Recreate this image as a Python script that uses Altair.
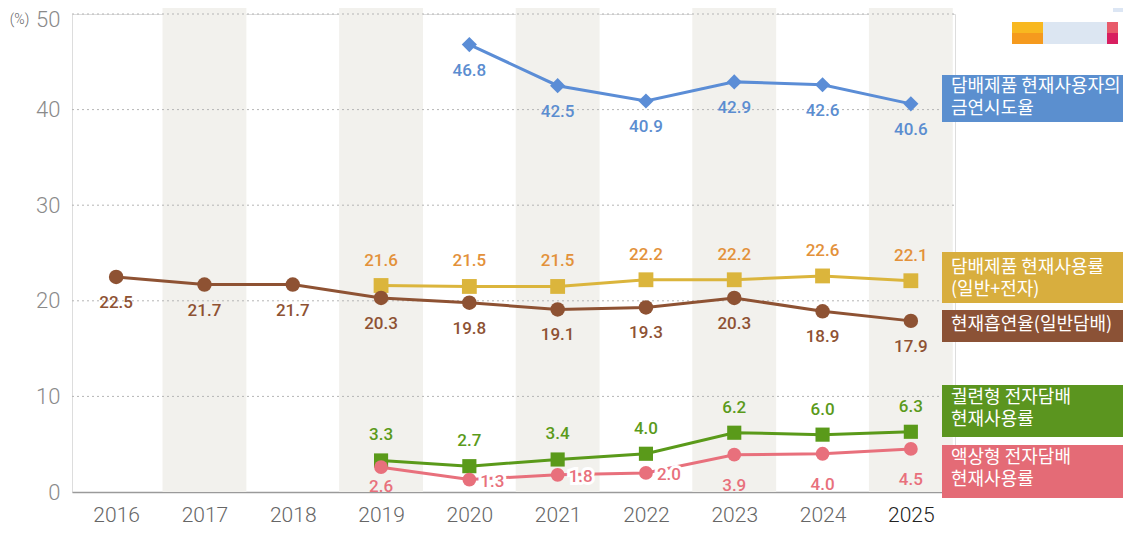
import altair as alt
import pandas as pd

# ---------------- data ----------------
years = [2016, 2017, 2018, 2019, 2020, 2021, 2022, 2023, 2024, 2025]
shaded_years = [2017, 2019, 2021, 2023, 2025]

quit_years = [2020, 2021, 2022, 2023, 2024, 2025]
quit_attempt = [46.8, 42.5, 40.9, 42.9, 42.6, 40.6]

use_years = [2019, 2020, 2021, 2022, 2023, 2024, 2025]
tobacco_use = [21.6, 21.5, 21.5, 22.2, 22.2, 22.6, 22.1]
heated_use = [3.3, 2.7, 3.4, 4.0, 6.2, 6.0, 6.3]
liquid_use = [2.6, 1.3, 1.8, 2.0, 3.9, 4.0, 4.5]

smoking = [22.5, 21.7, 21.7, 20.3, 19.8, 19.1, 19.3, 20.3, 18.9, 17.9]

y_ticks = [10, 20, 30, 40, 50]

series_names = ["quit", "tobacco", "smoking", "heated", "liquid"]
line_colors = ["#5b8dd6", "#dbb53c", "#8e5233", "#5a9a1a", "#e8707c"]
label_colors = ["#5b8dd0", "#e3913a", "#8e5233", "#5a9a1a", "#e8707c"]
shapes = ["diamond", "square", "circle", "square", "circle"]
sizes = [230, 190, 200, 190, 190]

# label placement for each point
quit_place = ["below"] * 6
tobacco_place = ["above"] * 7
smoking_place = ["below"] * 10
heated_place = ["above"] * 7
liquid_place = ["below_near", "right", "right", "right", "below_far", "below_far", "below_far"]

rows = []
for name, xs, vs, pl in [
    ("quit", quit_years, quit_attempt, quit_place),
    ("tobacco", use_years, tobacco_use, tobacco_place),
    ("smoking", years, smoking, smoking_place),
    ("heated", use_years, heated_use, heated_place),
    ("liquid", use_years, liquid_use, liquid_place),
]:
    for x, v, p in zip(xs, vs, pl):
        rows.append({"series": name, "year": x, "value": v, "label": f"{v:.1f}", "place": p})
df = pd.DataFrame(rows)

# legend boxes (annotation)
box_colors = ["#5b8fcf", "#d8ae3e", "#8b5236", "#5b951f", "#e46b76"]
box_lines = [
    ["담배제품 현재사용자의", "금연시도율"],
    ["담배제품 현재사용률", "(일반+전자)"],
    ["현재흡연율(일반담배)"],
    ["궐련형 전자담배", "현재사용률"],
    ["액상형 전자담배", "현재사용률"],
]
# layout (pixels relative to the plot area)
box_top = [61, 238, 296, 371, 431]
box_bottom = [108, 289, 328, 423, 484]
line_y = [[73, 95], [254, 276], [311], [384, 406], [444, 466]]

W, H = 883, 478
BOX_X0, BOX_X1, TEXT_X = 870, 1051, 879

boxes = pd.DataFrame({"x": [BOX_X0] * 5, "x2": [BOX_X1] * 5, "y": box_top, "y2": box_bottom, "c": box_colors})
box_text = pd.DataFrame(
    [{"x": TEXT_X, "y": yy, "t": t} for lines, ys in zip(box_lines, line_y) for t, yy in zip(lines, ys)]
)

# decoration (cropped logo at top right)
deco = pd.DataFrame({
    "x": [940, 940, 971, 1035, 1035, 1041],
    "x2": [971, 971, 1035, 1046, 1046, 1055],
    "y": [8, 19, 8, 8, 19, -14],
    "y2": [19, 30, 30, 19, 30, -2],
    "c": ["#f8b820", "#f59a1e", "#dce6f2", "#e85a6a", "#d81f60", "#dce6f4"],
})

# ---------------- chart ----------------
xscale = alt.Scale(domain=[2015.5, 2025.5], zero=False, nice=False)
yscale = alt.Scale(domain=[0, 50], nice=False)
FONT = "Roboto"

x_axis = alt.Axis(
    values=years, format="d", title=None, grid=False, ticks=False,
    labelFont=FONT, labelFontSize=21, labelFontWeight=300, labelPadding=12,
    labelColor=alt.condition("datum.value == 2025", alt.value("#222222"), alt.value("#666666")),
    domainColor="#9a9a9a", domainWidth=1.5,
)
y_axis = alt.Axis(
    values=[0] + y_ticks, title="(%)", titleAngle=0, titleX=-53, titleY=5,
    titleFont=FONT, titleFontSize=14, titleFontWeight=300, titleColor="#666666",
    titleAlign="center", titleBaseline="middle",
    grid=False, ticks=False, domain=False,
    labelFont=FONT, labelFontSize=22, labelFontWeight=300, labelColor="#8a8a8a", labelPadding=12,
    labelOffset=alt.condition("datum.value == 50", alt.value(5), alt.value(0)),
)

bands = alt.Chart(pd.DataFrame({"year": shaded_years})).transform_calculate(
    x0="datum.year - 0.475", x1="datum.year + 0.475"
).mark_rect(color="#f2f1ed").encode(
    x=alt.X("x0:Q", scale=xscale, axis=x_axis),
    x2="x1:Q",
    y=alt.value(-6),
    y2=alt.value(H),
)

grid = alt.Chart(pd.DataFrame({"v": y_ticks})).mark_rule(
    color="#b5b5b5", strokeDash=[2, 3], strokeWidth=1
).encode(
    y=alt.Y("v:Q", scale=yscale, axis=y_axis),
    x=alt.value(0), x2=alt.value(W),
)

color_scale = alt.Scale(domain=series_names, range=line_colors)
lines = alt.Chart(df).mark_line(strokeWidth=3).encode(
    x=alt.X("year:Q", scale=xscale),
    y=alt.Y("value:Q", scale=yscale),
    color=alt.Color("series:N", scale=color_scale, legend=None),
    detail="series:N",
)
points = alt.Chart(df).mark_point(filled=True, opacity=1).encode(
    x=alt.X("year:Q", scale=xscale),
    y=alt.Y("value:Q", scale=yscale),
    color=alt.Color("series:N", scale=color_scale, legend=None),
    shape=alt.Shape("series:N", scale=alt.Scale(domain=series_names, range=shapes), legend=None),
    size=alt.Size("series:N", scale=alt.Scale(domain=series_names, range=sizes), legend=None),
)

label_scale = alt.Scale(domain=series_names, range=label_colors)


def label_layer(place, dx=0, dy=0, align="center", halo=False):
    base = alt.Chart(df).transform_filter(alt.datum.place == place)
    enc = dict(
        x=alt.X("year:Q", scale=xscale),
        y=alt.Y("value:Q", scale=yscale),
        text="label:N",
    )
    kw = dict(font=FONT, fontSize=17, fontWeight=500, dx=dx, dy=dy, align=align, baseline="middle")
    main = base.mark_text(**kw).encode(
        color=alt.Color("series:N", scale=label_scale, legend=None), **enc
    )
    if halo:
        h = base.mark_text(stroke="white", strokeWidth=6, fill="white", **kw).encode(**enc)
        return [h, main]
    return [main]


labels = (
    label_layer("above", dy=-25)
    + label_layer("below", dy=26)
    + label_layer("below_near", dy=20)
    + label_layer("below_far", dy=31)
    + label_layer("right", dx=11, dy=2, align="left", halo=True)
)

box_rects = alt.Chart(boxes).mark_rect().encode(
    x=alt.X("x:Q", scale=None), x2="x2:Q",
    y=alt.Y("y:Q", scale=None), y2="y2:Q",
    color=alt.Color("c:N", scale=None),
)
box_texts = alt.Chart(box_text).mark_text(
    font="Noto Sans CJK KR", fontSize=18, fontWeight=400, color="white", align="left", baseline="middle"
).encode(
    x=alt.X("x:Q", scale=None), y=alt.Y("y:Q", scale=None), text="t:N",
)
deco_rects = alt.Chart(deco).mark_rect().encode(
    x=alt.X("x:Q", scale=None), x2="x2:Q",
    y=alt.Y("y:Q", scale=None), y2="y2:Q",
    color=alt.Color("c:N", scale=None),
)

chart = alt.layer(
    bands, grid, lines, points, *labels, box_rects, box_texts, deco_rects
).resolve_scale(color="independent").properties(
    width=W, height=H,
    autosize=alt.AutoSizeParams(type="none"),
    padding={"left": 64, "top": 6, "right": 168, "bottom": 33},
).configure_view(stroke=None).configure(background="white")

chart.save("out.html", embed_options={"renderer": "svg", "actions": False})
